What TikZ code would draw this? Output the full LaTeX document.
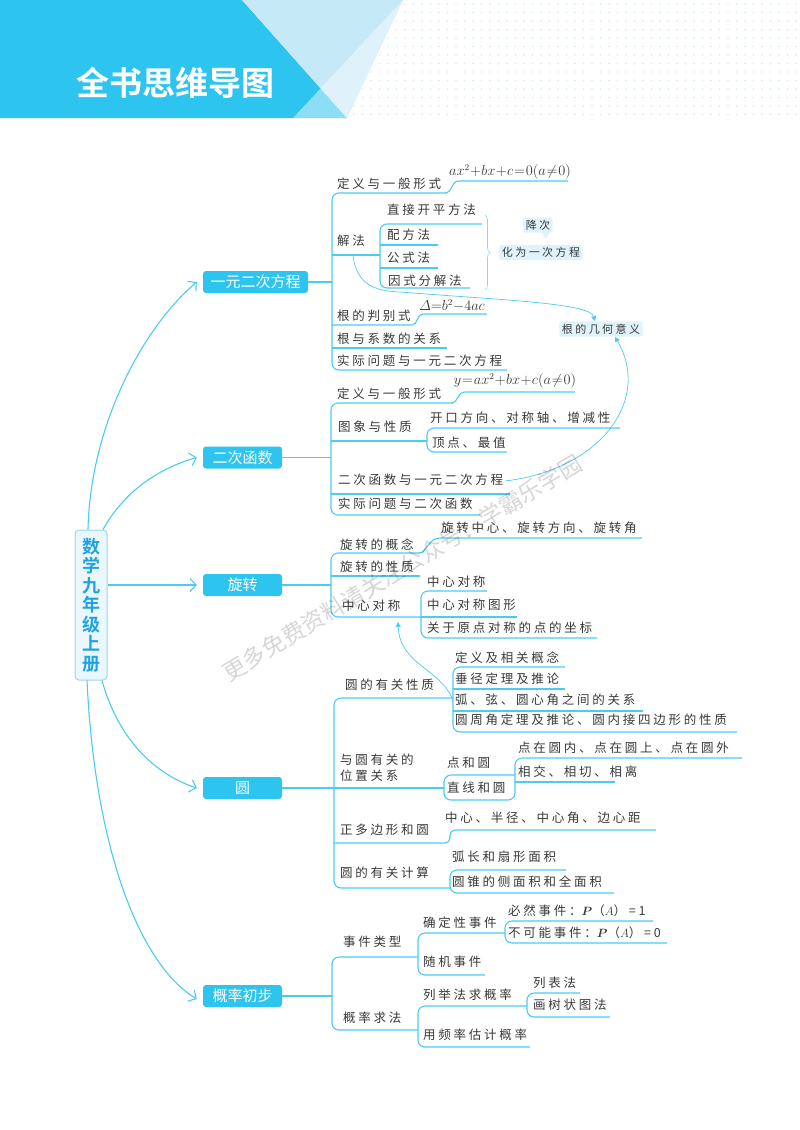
\documentclass[tikz,border=0pt]{standalone}
\usepackage{amsmath}
\usepackage{fontspec}
\newfontfamily\cjk[LetterSpace=22]{Noto Sans CJK SC}
\newfontfamily\cjkw{Noto Sans CJK SC}[BoldFont={Noto Sans CJK SC Bold}]
\usetikzlibrary{arrows.meta,decorations.pathreplacing}
\definecolor{cy}{HTML}{2EC4F0}
\definecolor{ln}{HTML}{4ACBF1}
\definecolor{txt}{HTML}{383838}
\definecolor{lbox}{HTML}{E0F2FB}
\definecolor{lightA}{HTML}{C6E9F8}
\definecolor{dotc}{HTML}{D3ECF3}
\definecolor{rootc}{HTML}{1FA3E0}
\definecolor{rootf}{HTML}{EAF7FD}
\tikzset{
  lab/.style={font=\cjk\fontsize{12.5}{16}\selectfont, text=txt, inner sep=0pt, anchor=west},
  frm/.style={font=\fontsize{13.5}{14}\selectfont, text=txt, inner sep=0pt},
  br/.style={draw=ln, line width=1.1pt, rounded corners=7pt},
  sl/.style={draw=ln, line width=1.1pt},
  mainbox/.style={fill=cy, rounded corners=3pt, text=white, font=\cjkw\fontsize{15}{16}\selectfont, minimum height=22pt, inner sep=0pt},
  tagbox/.style={fill=lbox, rounded corners=2pt, font=\cjk\fontsize{11}{13}\selectfont, text=txt, inner sep=2.5pt},
  arr/.style={draw=ln, line width=1.1pt, -{Straight Barb[length=6pt,width=13pt]}},
  tarr/.style={draw=ln, line width=0.7pt, -{Triangle[length=5pt,width=5pt]}}
}
\begin{document}
\begin{tikzpicture}[x=1pt,y=-1pt]
\useasboundingbox (0,0) rectangle (800,1130);
% header
\foreach \i in {0,...,52} \foreach \j in {0,...,13} \fill[dotc] (354+\i*8.5,4+\j*8.5) circle (0.8pt);
\fill[cy] (0,0) -- (242,0) -- (347,118) -- (0,118) -- cycle;
\fill[lightA] (242,0) -- (403,0) -- (347,118) -- cycle;
\fill[white, opacity=.45] (403,0) -- (293,118) -- (347,118) -- cycle;
\node[font=\cjkw\bfseries\fontsize{33}{35}\selectfont, text=white, inner sep=0pt] (title) at (175,83) {全书思维导图};

% root
\node[draw=rootc!45, fill=rootf, rounded corners=4pt, line width=1pt, minimum width=32pt, minimum height=150pt, align=center, text=rootc, font=\cjkw\bfseries\fontsize{18}{19.5}\selectfont, inner sep=0pt] (root) at (91,605) {数\\学\\九\\年\\级\\上\\册};

% main branch nodes
\node[mainbox, minimum width=105pt] (n1) at (255.5,282) {一元二次方程};
\node[mainbox, minimum width=79pt] (n2) at (242.5,457.5) {二次函数};
\node[mainbox, minimum width=79pt] (n3) at (242.5,585) {旋转};
\node[mainbox, minimum width=79pt] (n4) at (242.5,788) {圆};
\node[mainbox, minimum width=79pt] (n5) at (242.5,996) {概率初步};

% arrows from root
\draw[arr] ([xshift=-3pt]root.north) .. controls (90,430) and (140,330) .. ([xshift=-6pt]n1.west);
\draw[arr] ([xshift=12pt]root.north) .. controls (125,490) and (160,468) .. ([xshift=-6pt]n2.west);
\draw[arr] (root.east |- n3.west) -- ([xshift=-6pt]n3.west);
\draw[arr] ([xshift=11pt]root.south) .. controls (120,745) and (160,776) .. ([xshift=-6pt]n4.west);
\draw[arr] ([xshift=-4pt]root.south) .. controls (95,850) and (140,965) .. ([xshift=-6pt,yshift=-3pt]n5.west);

% ===== section 1 =====
\draw[sl] (n1.east) -- (332,282);
\draw[br] (447,193) -- (332,193) -- (332,370) -- (507,370);
\draw[sl] (446,193) .. controls (452,193) and (451,181) .. (459,181) -- (568,181);
\draw[sl] (332,255) -- (380,255);
\draw[br] (482,224) -- (380,224) -- (380,288) -- (470,288);
\draw[sl] (380,245) -- (438,245);
\draw[sl] (380,268) -- (438,268);
\draw[sl] (332,325) -- (412,325) .. controls (418,325) and (416,314) .. (424,314) -- (487,314);
\draw[sl] (332,348) -- (447,348);
\node[lab] (a1) at (337,184) {定义与一般形式};
\node[frm] (f1) at (510,172) {$\medmuskip=0.5mu\thickmuskip=1mu ax^2+bx+c=0(a\neq 0)$};
\node[lab] (a2) at (337,241) {解法};
\node[lab] (a21) at (387,210) {直接开平方法};
\node[lab] (a22) at (387,235) {配方法};
\node[lab] (a23) at (387,258) {公式法};
\node[lab] (a24) at (388,281) {因式分解法};
\draw[draw=ln!70, line width=0.6pt, decorate, decoration={brace, amplitude=5pt}] (485,215) -- (485,290);
\node[tagbox] (jc) at (538,225) {降次};
\fill[lbox] (541,232) -- (550,232) -- (546,239) -- cycle;
\node[tagbox] (hw) at (541,252.5) {化为一次方程};
\node[lab] (a3) at (337,316) {根的判别式};
\node[frm] (f2) at (452,306) {$\varDelta{=}b^2{-}4ac$};
\node[lab] (a4) at (337,339) {根与系数的关系};
\node[lab] (a5) at (337,361) {实际问题与一元二次方程};
\node[tagbox] (gj) at (601,329) {根的几何意义};
\draw[tarr] (353,256) .. controls (357,285) and (375,291) .. (400,292) .. controls (500,300) and (590,303) .. ([xshift=-6pt]gj.north);

% ===== section 2 =====
\draw[sl] (n2.east) -- (331,457.5);
\draw[br] (453,403) -- (331,403) -- (331,515) -- (480,515);
\draw[sl] (452,403) .. controls (458,403) and (457,392) .. (465,392) -- (575,392);
\draw[sl] (331,441) -- (427,441);
\draw[br] (620,428) -- (427,428) -- (427,452) -- (507,452);
\draw[sl] (331,494) -- (510,494);
\node[lab] (b1) at (337,394) {定义与一般形式};
\node[frm] (f3) at (515,381) {$\medmuskip=0.5mu\thickmuskip=1mu y=ax^2+bx+c(a\neq 0)$};
\node[lab] (b2) at (338,427) {图象与性质};
\node[lab] (b21) at (430,418) {开口方向、对称轴、增减性};
\node[lab] (b22) at (432,443) {顶点、最值};
\node[lab] (b3) at (338,480) {二次函数与一元二次方程};
\node[lab] (b4) at (338,504) {实际问题与二次函数};
\draw[tarr] (505,481) .. controls (600,470) and (652,400) .. ([xshift=14pt]gj.south);

% ===== section 3 =====
\draw[sl] (n3.east) -- (331,585);
\draw[br] (420,553) -- (331,553) -- (331,617) -- (421,617);
\draw[sl] (421,617) -- (517,617);
\draw[sl] (419,553) .. controls (427,553) and (428,538) .. (440,538) -- (642,538);
\draw[sl] (331,576) -- (420,576);
\draw[br] (487,591) -- (421,591) -- (421,638) -- (597,638);
\node[lab] (c0) at (441,528) {旋转中心、旋转方向、旋转角};
\node[lab] (c1) at (340,545) {旋转的概念};
\node[lab] (c2) at (340,567) {旋转的性质};
\node[lab] (c3) at (342,606) {中心对称};
\node[lab] (c31) at (427,582) {中心对称};
\node[lab] (c32) at (427,605) {中心对称图形};
\node[lab] (c33) at (427,628) {关于原点对称的点的坐标};
\draw[tarr] (453,700) .. controls (440,668) and (400,665) .. (398,622);

% ===== section 4 =====
\draw[sl] (n4.east) -- (444,788);
\draw[br] (453,698) -- (334,698) -- (334,888) -- (450,888);
\draw[br] (565,667) -- (453,667) -- (453,732) -- (737,732);
\draw[sl] (453,689) -- (565,689);
\draw[sl] (453,711) -- (643,711);
\draw[br] (515,775) -- (444,775) -- (444,800) -- (515,800) -- (515,758) -- (742,758);
\draw[sl] (515,782) -- (615,782);
\draw[rounded corners=5pt, sl] (334,843) -- (450,843) -- (450,830) -- (656,830);
\draw[br] (566,870) -- (450,870) -- (450,893) -- (614,893);
\node[lab] (d1) at (345,685) {圆的有关性质};
\node[lab] (d11) at (455,658) {定义及相关概念};
\node[lab] (d12) at (455,679) {垂径定理及推论};
\node[lab] (d13) at (455,700) {弧、弦、圆心角之间的关系};
\node[lab] (d14) at (455,720) {圆周角定理及推论、圆内接四边形的性质};
\node[lab, align=left] (d2) at (340,768) {与圆有关的\\位置关系};
\node[lab] (d21) at (447,763) {点和圆};
\node[lab] (d211) at (518,748) {点在圆内、点在圆上、点在圆外};
\node[lab] (d221) at (518,772) {相交、相切、相离};
\node[lab] (d22) at (447,788) {直线和圆};
\node[lab] (d3) at (340,830) {正多边形和圆};
\node[lab] (d31) at (445,818) {中心、半径、中心角、边心距};
\node[lab] (d4) at (340,873) {圆的有关计算};
\node[lab] (d41) at (452,857) {弧长和扇形面积};
\node[lab] (d42) at (452,882) {圆锥的侧面积和全面积};

% ===== section 5 =====
\draw[sl] (n5.east) -- (332,996);
\draw[br] (418,957) -- (332,957) -- (332,1030) -- (418,1030);
\draw[br] (505,933) -- (418,933) -- (418,975) -- (485,975);
\draw[br] (653,921) -- (505,921) -- (505,943) -- (667,943);
\draw[br] (527,1006) -- (418,1006) -- (418,1047) -- (530,1047);
\draw[br] (580,993) -- (527,993) -- (527,1017) -- (610,1017);
\node[lab] (e1) at (343,942) {事件类型};
\node[lab] (e11) at (423,923) {确定性事件};
\node[lab] (e111) at (508,911) {必然事件：$\boldsymbol{P}$（$A$）=1};
\node[lab] (e112) at (508,933) {不可能事件：$\boldsymbol{P}$（$A$）=0};
\node[lab] (e12) at (423,962) {随机事件};
\node[lab] (e2) at (343,1018) {概率求法};
\node[lab] (e21) at (423,995) {列举法求概率};
\node[lab] (e211) at (533,983) {列表法};
\node[lab] (e212) at (533,1005) {画树状图法};
\node[lab] (e22) at (423,1035) {用频率估计概率};

% watermark
\node[rotate=31, text=black, opacity=0.16, font=\cjkw\fontsize{23}{24}\selectfont, inner sep=0pt] (wm) at (402,568) {更多免费资料请关注公众号：学霸乐学园};
\end{tikzpicture}
\end{document}
